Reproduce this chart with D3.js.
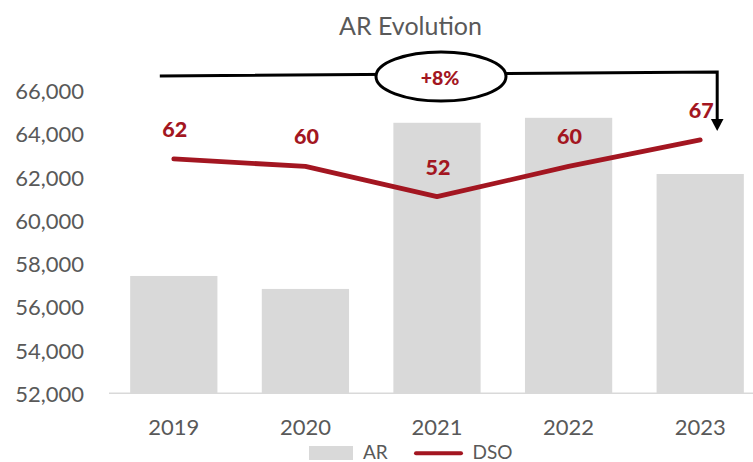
<!DOCTYPE html>
<html>
<head>
<meta charset="utf-8">
<script src="https://cdn.jsdelivr.net/npm/d3@7"></script>
<style>
  html, body { margin: 0; padding: 0; background: #fff; }
  svg { display: block; }
  text { font-family: Lato, "Open Sans", "Liberation Sans", sans-serif; }
</style>
</head>
<body>
<svg id="chart" width="753" height="462"></svg>
<script>
// Accounts receivable by year, with days sales outstanding on a hidden secondary axis
const years = ["2019", "2020", "2021", "2022", "2023"];
const arValues = [57430, 56830, 64520, 64750, 62150];
const dsoValues = [62, 60, 52, 60, 67];
const arTicks = [52000, 54000, 56000, 58000, 60000, 62000, 64000, 66000];
const dsoDomain = [0, 80];

const W = 753, H = 462;
const plot = { left: 108, right: 766, top: 90.8, bottom: 393.3 };
const grey = "#595959", barFill = "#d9d9d9", red = "#a31621";

const svg = d3.select("#chart");

const x = d3.scaleBand().domain(years).range([plot.left, plot.right])
  .paddingInner(0.337).paddingOuter(0.337 / 2);
const y = d3.scaleLinear().domain([arTicks[0], arTicks[arTicks.length - 1]])
  .range([plot.bottom, plot.top]);
const y2 = d3.scaleLinear().domain(dsoDomain).range([plot.bottom, plot.top]);
const cx = d => x(d) + x.bandwidth() / 2;

// Title
svg.append("text")
  .attr("x", 410.5).attr("y", 35)
  .attr("text-anchor", "middle")
  .attr("font-size", 25).attr("fill", grey)
  .text("AR Evolution");

// Left axis (labels only)
const yAxis = d3.axisLeft(y).tickValues(arTicks).tickFormat(d3.format(",")).tickSize(0).tickPadding(0);
const gy = svg.append("g").attr("transform", "translate(84,0)").call(yAxis);
gy.select(".domain").remove();
gy.selectAll("text")
  .attr("font-family", "Lato, sans-serif")
  .attr("font-size", 22).attr("fill", grey)
  .attr("dy", "0.36em");

// Bars
svg.append("g").selectAll("rect")
  .data(years)
  .join("rect")
  .attr("x", d => x(d))
  .attr("width", x.bandwidth())
  .attr("y", (d, i) => y(arValues[i]))
  .attr("height", (d, i) => plot.bottom - y(arValues[i]))
  .attr("fill", barFill);

// Category axis
const xAxis = d3.axisBottom(x).tickSize(0).tickPadding(0);
const gx = svg.append("g").attr("transform", `translate(0,${plot.bottom})`).call(xAxis);
gx.select(".domain").remove();
gx.selectAll("text")
  .attr("font-family", "Lato, sans-serif")
  .attr("font-size", 22).attr("fill", grey)
  .attr("y", 0).attr("dy", 0)
  .attr("transform", "translate(0,41.7)");
svg.append("line")
  .attr("x1", plot.left + 1).attr("x2", W)
  .attr("y1", plot.bottom).attr("y2", plot.bottom)
  .attr("stroke", barFill).attr("stroke-width", 1.5);

// DSO line
const line = d3.line().x((d, i) => cx(years[i])).y(d => y2(d));
svg.append("path")
  .datum(dsoValues)
  .attr("d", line)
  .attr("fill", "none")
  .attr("stroke", red)
  .attr("stroke-width", 4.8)
  .attr("stroke-linecap", "round")
  .attr("stroke-linejoin", "round");

// DSO value labels
svg.append("g").selectAll("text")
  .data(dsoValues)
  .join("text")
  .attr("x", (d, i) => cx(years[i]) + 1)
  .attr("y", d => y2(d) - 22)
  .attr("text-anchor", "middle")
  .attr("font-size", 21.5).attr("font-weight", "900")
  .attr("fill", red)
  .text(d => d);

// Growth annotation: bracket from first to last year with arrow
const ax0 = cx(years[0]) - 14;
const ax1 = cx(years[years.length - 1]) + 17;
const ay0 = 76, ay1 = 72;
const arrowTip = y2(dsoValues[dsoValues.length - 1]) - 9;
svg.append("path")
  .attr("d", `M${ax0},${ay0} L${ax1},${ay1} L${ax1},${arrowTip - 11}`)
  .attr("fill", "none")
  .attr("stroke", "#000")
  .attr("stroke-width", 3);
svg.append("path")
  .attr("d", `M${ax1 - 6.3},${arrowTip - 12} L${ax1 + 6.3},${arrowTip - 12} L${ax1},${arrowTip} Z`)
  .attr("fill", "#000");

const growth = Math.round((arValues[arValues.length - 1] / arValues[0] - 1) * 100);
svg.append("ellipse")
  .attr("cx", 441).attr("cy", 76.5)
  .attr("rx", 65).attr("ry", 24.5)
  .attr("fill", "#fff")
  .attr("stroke", "#000")
  .attr("stroke-width", 3);
svg.append("text")
  .attr("x", 440).attr("y", 85)
  .attr("text-anchor", "middle")
  .attr("font-size", 19.5).attr("font-weight", "900")
  .attr("fill", red)
  .text((growth >= 0 ? "+" : "") + growth + "%");

// Legend
const lg = svg.append("g");
lg.append("rect")
  .attr("x", 309).attr("y", 446).attr("width", 44).attr("height", 14)
  .attr("fill", barFill);
lg.append("text")
  .attr("x", 363).attr("y", 458.5)
  .attr("font-size", 19).attr("fill", grey)
  .text("AR");
lg.append("line")
  .attr("x1", 416).attr("x2", 461).attr("y1", 453.3).attr("y2", 453.3)
  .attr("stroke", red).attr("stroke-width", 4).attr("stroke-linecap", "round");
lg.append("text")
  .attr("x", 472.5).attr("y", 458.5)
  .attr("font-size", 19).attr("fill", grey)
  .text("DSO");
</script>
</body>
</html>
